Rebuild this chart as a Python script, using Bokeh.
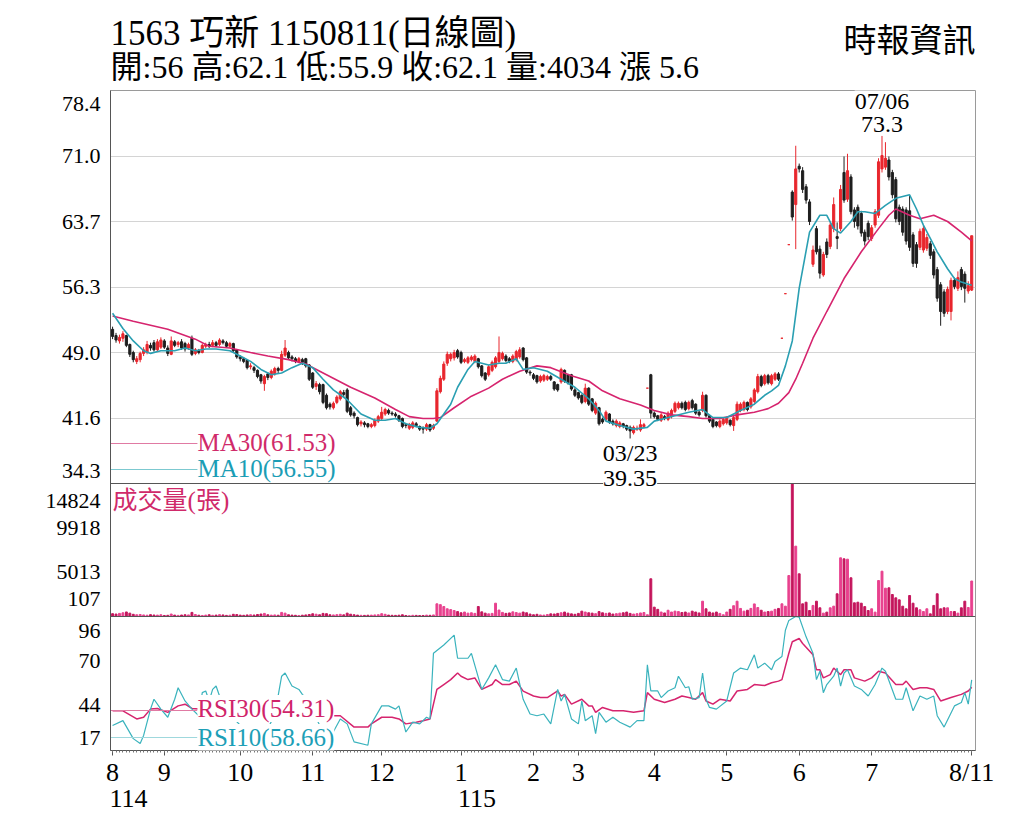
from bokeh.plotting import figure
from bokeh.layouts import column
from bokeh.models import Range1d, FixedTicker, Span, Label, ColumnDataSource, LinearAxis
from bokeh.embed import file_html
from bokeh.resources import INLINE

# ---------------- data ----------------
month_idx = [0, 15, 37, 58, 78, 101, 122, 135, 157, 178, 199, 220, 249]
month_lbl = ["8", "9", "10", "11", "12", "1", "2", "3", "4", "5", "6", "7", "8/11"]
year_idx = [0, 101]
year_lbl = ["114", "115"]

price_ticks = [34.3, 41.6, 49.0, 56.3, 63.7, 71.0, 78.4]
vol_ticks = [107, 5013, 9918, 14824]
rsi_ticks = [17, 44, 70, 96]

O = [51.6, 50.9, 50.3, 50.6, 50.9, 49.9, 49.0, 48.0, 48.2, 48.9, 49.0, 49.8, 50.1, 49.3, 49.6,
     50.3, 49.5, 48.8, 50.2, 49.9, 50.2, 50.0, 49.5, 50.6, 48.9, 49.2, 49.0, 49.7, 49.9, 49.8,
     50.1, 49.9, 50.3, 50.1, 49.7, 50.0, 49.3, 48.5, 48.3, 48.1, 47.4, 47.3, 47.0, 46.5, 45.5,
     46.6, 46.2, 46.6, 47.2, 47.0, 48.7, 49.0, 48.5, 48.3, 48.0, 48.2, 48.3, 47.6, 46.7, 45.2,
     45.4, 45.4, 44.2, 43.2, 42.8, 43.4, 43.8, 44.5, 44.8, 42.8, 42.2, 41.7, 41.0, 41.1, 41.0,
     40.7, 40.8, 41.3, 41.6, 42.1, 42.5, 42.2, 42.1, 41.9, 41.6, 40.9, 40.5, 40.6, 41.0, 40.7,
     40.5, 40.4, 40.9, 40.5, 41.3, 44.6, 46.0, 47.8, 48.3, 48.4, 49.2, 49.0, 48.0, 47.9, 48.2,
     48.0, 48.3, 47.5, 46.7, 46.5, 47.0, 47.4, 48.0, 48.3, 48.6, 48.3, 48.0, 48.2, 48.5, 49.5,
     48.4, 46.8, 46.5, 46.4, 45.8, 45.9, 46.0, 46.3, 45.7, 45.4, 45.7, 47.0, 46.5, 46.5, 44.8,
     44.5, 44.2, 43.5, 45.0, 43.8, 42.2, 42.8, 41.5, 41.5, 42.1, 41.3, 40.8, 40.7, 41.0, 40.8,
     40.6, 40.0, 40.4, 40.3, 40.7, 45.0, 46.5, 42.2, 41.9, 41.4, 41.8, 41.5, 41.8, 42.4, 42.8,
     43.3, 43.4, 42.7, 43.6, 43.2, 42.3, 42.5, 44.2, 41.9, 41.5, 41.2, 40.7, 41.0, 41.1, 41.4,
     40.8, 41.5, 42.5, 42.6, 43.4, 42.9, 43.5, 44.6, 46.3, 45.5, 46.4, 45.5, 46.0, 46.6, 50.6,
     55.6, 61.1, 67.0, 65.6, 69.9, 69.4, 67.6, 65.9, 58.9, 62.9, 60.6, 57.7, 61.4, 60.9, 62.9,
     62.0, 62.9, 69.2, 66.2, 68.7, 65.0, 65.3, 64.6, 62.5, 63.5, 61.8, 63.3, 64.4, 69.6, 69.8,
     70.6, 69.2, 68.4, 65.3, 65.1, 65.0, 64.9, 62.2, 61.1, 60.8, 60.5, 60.7, 61.2, 60.3, 58.3,
     56.6, 55.8, 53.6, 53.6, 57.1, 56.2, 58.3, 57.8, 55.9, 56.0]
H = [51.9, 51.2, 51.0, 51.4, 51.0, 50.0, 49.2, 48.6, 49.1, 49.6, 50.3, 50.1, 50.4, 50.5, 50.7,
     50.5, 49.8, 50.8, 50.4, 50.3, 50.5, 50.2, 50.1, 50.9, 49.5, 49.4, 50.0, 50.1, 50.2, 50.4,
     50.3, 50.6, 50.5, 50.3, 50.2, 50.1, 49.4, 48.7, 48.5, 48.2, 47.8, 47.5, 47.1, 46.6, 46.5,
     46.8, 47.1, 47.4, 47.4, 49.2, 50.4, 49.2, 48.7, 48.5, 48.5, 48.4, 48.4, 47.7, 46.8, 45.8,
     45.6, 45.5, 44.4, 43.4, 43.5, 44.2, 44.8, 44.8, 45.0, 43.0, 42.4, 41.8, 41.4, 41.3, 41.1,
     41.1, 41.6, 42.0, 42.9, 42.8, 42.7, 42.4, 42.3, 42.0, 41.7, 41.1, 41.1, 41.3, 41.2, 40.8,
     40.7, 41.1, 41.0, 41.0, 45.0, 46.4, 48.0, 49.1, 49.0, 49.3, 49.4, 49.2, 48.4, 48.6, 48.7,
     48.8, 48.4, 47.6, 46.8, 47.6, 48.1, 48.6, 50.8, 49.1, 48.8, 48.5, 48.8, 49.3, 49.6, 49.6,
     48.5, 47.0, 46.7, 46.5, 46.5, 46.6, 46.5, 46.5, 45.8, 45.5, 47.3, 47.1, 46.6, 46.6, 45.0,
     44.6, 44.3, 45.5, 45.1, 43.9, 43.5, 42.9, 41.7, 42.5, 42.2, 41.5, 41.5, 41.3, 41.1, 40.9,
     40.8, 40.8, 40.8, 41.5, 41.1, 45.0, 46.6, 42.4, 42.0, 42.2, 42.0, 42.4, 42.7, 43.5, 43.5,
     43.5, 43.6, 43.6, 43.8, 43.3, 42.5, 44.6, 44.3, 42.0, 41.6, 41.3, 41.5, 41.7, 41.8, 41.5,
     41.9, 43.5, 43.4, 43.6, 43.5, 44.0, 45.0, 46.6, 46.5, 46.6, 46.6, 46.6, 46.8, 46.8, 50.6,
     55.6, 61.1, 67.2, 72.2, 70.2, 69.8, 67.9, 66.2, 61.0, 63.2, 61.0, 60.3, 61.8, 63.6, 66.4,
     63.6, 67.8, 71.0, 71.3, 69.0, 65.3, 65.6, 64.9, 62.8, 63.8, 63.3, 65.1, 70.8, 73.3, 72.6,
     71.0, 69.5, 68.7, 65.6, 65.4, 65.3, 66.6, 62.5, 61.4, 62.9, 63.2, 62.3, 61.5, 60.6, 58.6,
     56.9, 56.1, 56.4, 57.4, 57.4, 58.1, 58.6, 58.1, 57.0, 62.1]
L = [50.5, 50.1, 50.0, 50.2, 49.6, 48.5, 47.9, 47.7, 47.9, 48.6, 48.8, 49.2, 49.1, 49.1, 49.4,
     49.4, 48.6, 48.7, 49.6, 49.6, 49.3, 49.1, 49.3, 48.6, 48.7, 48.8, 48.9, 49.5, 49.5, 49.6,
     49.6, 49.7, 49.9, 49.5, 49.5, 49.0, 48.3, 48.0, 47.8, 47.1, 47.1, 46.7, 46.1, 45.5, 44.7,
     45.9, 46.0, 46.4, 46.7, 46.9, 48.5, 48.2, 48.0, 47.8, 47.8, 47.6, 47.3, 45.8, 44.9, 44.8,
     44.3, 43.2, 42.6, 42.6, 42.6, 43.2, 43.6, 44.0, 42.2, 41.8, 41.6, 40.7, 40.7, 40.6, 40.5,
     40.5, 40.6, 41.1, 41.4, 41.9, 42.0, 41.9, 41.7, 41.2, 40.5, 40.5, 40.3, 40.4, 40.6, 40.2,
     39.9, 40.2, 40.1, 40.3, 41.2, 44.4, 45.8, 47.5, 48.0, 48.1, 48.3, 47.7, 47.8, 47.7, 48.0,
     47.8, 47.2, 46.2, 45.8, 46.3, 46.8, 47.2, 47.8, 48.1, 47.9, 47.8, 47.8, 48.0, 48.3, 48.0,
     46.6, 46.4, 45.9, 45.5, 45.6, 45.7, 45.8, 45.8, 44.7, 44.6, 45.5, 45.6, 45.4, 44.7, 44.0,
     43.7, 43.2, 43.3, 43.0, 42.3, 42.0, 40.8, 41.0, 41.3, 41.0, 40.8, 40.6, 40.5, 40.5, 40.2,
     39.35, 39.8, 40.2, 40.1, 40.5, 45.0, 41.6, 41.6, 41.3, 41.2, 41.4, 41.3, 41.6, 42.2, 42.6,
     42.6, 42.4, 42.5, 42.6, 42.0, 41.8, 42.3, 41.7, 41.1, 40.5, 40.6, 40.5, 40.8, 40.9, 40.7,
     40.2, 41.3, 42.3, 42.4, 42.4, 42.7, 43.3, 44.4, 45.1, 45.3, 45.4, 45.3, 45.8, 45.8, 50.6,
     55.6, 61.1, 63.8, 60.6, 69.2, 66.9, 65.7, 63.3, 58.6, 60.0, 57.3, 57.5, 59.6, 60.6, 62.5,
     60.6, 62.6, 65.8, 65.9, 64.5, 63.0, 62.8, 62.0, 61.0, 61.6, 61.5, 63.0, 64.1, 69.2, 69.5,
     68.3, 66.3, 63.6, 63.3, 62.1, 61.1, 60.4, 58.6, 58.5, 60.5, 60.2, 60.4, 59.5, 57.3, 54.7,
     52.0, 53.0, 53.3, 52.6, 56.1, 55.9, 56.0, 54.6, 55.6, 55.9]
C = [50.8, 50.4, 50.7, 51.1, 49.8, 48.8, 48.2, 48.3, 48.9, 49.3, 49.9, 49.5, 49.3, 50.2, 50.4,
     49.6, 48.9, 50.3, 49.8, 50.1, 49.5, 49.4, 49.9, 48.8, 49.3, 49.0, 49.8, 49.9, 49.7, 50.1,
     49.8, 50.4, 50.1, 49.7, 50.0, 49.2, 48.5, 48.3, 48.0, 47.3, 47.5, 47.0, 46.3, 45.8, 46.3,
     46.2, 46.9, 47.2, 47.0, 48.8, 49.5, 48.4, 48.3, 48.0, 48.3, 47.9, 47.5, 46.0, 45.1, 45.5,
     44.6, 43.4, 42.8, 42.9, 43.3, 44.0, 44.6, 44.3, 42.4, 42.0, 41.9, 40.9, 41.2, 40.9, 40.7,
     40.9, 41.4, 41.8, 42.3, 42.6, 42.2, 42.1, 41.9, 41.4, 40.7, 40.8, 40.9, 41.1, 40.8, 40.4,
     40.4, 40.9, 40.3, 40.8, 44.7, 46.1, 47.7, 48.8, 48.8, 49.0, 48.5, 47.9, 48.2, 48.4, 48.5,
     48.6, 47.4, 46.4, 46.0, 47.4, 47.9, 48.4, 49.0, 48.9, 48.1, 48.0, 48.6, 49.1, 49.3, 48.2,
     46.8, 46.7, 46.1, 45.7, 46.3, 46.4, 46.3, 46.0, 44.9, 44.8, 47.1, 45.8, 45.6, 44.9, 44.2,
     43.9, 43.4, 45.0, 43.2, 42.5, 43.3, 41.0, 41.2, 42.3, 41.2, 41.0, 41.3, 41.1, 40.7, 40.4,
     40.2, 40.6, 40.5, 40.9, 40.9, 45.0, 42.2, 41.8, 41.5, 42.0, 41.6, 42.2, 42.5, 43.3, 43.3,
     42.8, 42.6, 43.4, 42.8, 42.2, 42.0, 44.2, 41.9, 41.3, 40.7, 40.8, 41.3, 41.5, 41.6, 40.9,
     41.7, 43.2, 43.2, 43.4, 42.6, 43.8, 44.8, 46.3, 45.3, 46.4, 45.6, 46.4, 46.6, 46.0, 50.6,
     55.6, 61.1, 64.2, 69.6, 69.6, 67.3, 66.1, 63.7, 60.5, 60.3, 57.9, 60.0, 60.0, 63.3, 65.6,
     61.8, 67.3, 66.1, 69.4, 64.8, 63.7, 63.2, 62.4, 61.5, 62.0, 63.0, 64.8, 70.4, 71.1, 70.8,
     68.7, 66.7, 64.0, 63.7, 62.5, 61.5, 60.8, 59.0, 59.0, 62.6, 62.9, 61.9, 59.9, 57.7, 55.1,
     53.6, 53.4, 56.1, 57.1, 56.4, 57.4, 56.4, 56.2, 56.5, 62.1]

vol = [420, 380, 450, 520, 610, 480, 350, 300, 330, 280, 250, 310, 270, 260, 300,
       220, 240, 380, 260, 230, 270, 300, 280, 560, 330, 250, 220, 260, 300, 240,
       260, 310, 280, 230, 250, 350, 320, 260, 240, 280, 300, 270, 330, 380, 450,
       300, 260, 280, 250, 560, 480, 300, 260, 240, 220, 250, 280, 330, 410, 360,
       300, 450, 420, 300, 280, 310, 350, 290, 480, 360, 300, 260, 240, 230, 250,
       260, 280, 300, 420, 350, 260, 240, 230, 250, 300, 220, 200, 240, 230, 210,
       220, 260, 240, 280, 1510, 1420, 1210, 960, 870, 770, 650, 520, 600, 480, 520,
       450, 1210, 620, 480, 400, 450, 1580, 820, 560, 450, 500, 620, 540, 480, 600,
       520, 380, 300, 350, 280, 260, 320, 400, 380, 450, 520, 600, 480, 400, 350,
       450, 700, 600, 520, 480, 420, 650, 520, 450, 500, 380, 420, 480, 520, 600,
       450, 380, 420, 500, 550, 300, 4280, 1140, 900, 600, 500, 800, 600, 700, 650,
       550, 600, 500, 700, 600, 500, 1800, 960, 600, 500, 600, 450, 300, 600, 900,
       1300, 1800, 1000, 700, 800, 1000, 1500, 1100, 800, 600, 650, 700, 900, 1000, 1510,
       1250, 4640, 14824, 7890, 4830, 1510, 1690, 770, 1330, 1800, 1070, 480, 590, 1070, 1250,
       2620, 6600, 6490, 6450, 4390, 1620, 1690, 1580, 1200, 770, 960, 590, 4090, 5120, 3240,
       3280, 2540, 2170, 1950, 1250, 960, 2430, 1580, 1070, 850, 660, 960, 400, 1330, 2620,
       960, 1070, 1070, 660, 660, 480, 1070, 1800, 1100, 4034]

ma30_i = [0, 6, 16, 24, 28, 34, 40, 45, 51, 56, 62, 69, 76, 82, 86, 90, 93, 95, 99, 104,
          109, 113, 118, 123, 127, 133, 138, 142, 147, 153, 157, 162, 167, 171, 176, 181, 186,
          190, 193, 196, 198, 200, 203, 207, 212, 217, 222, 225, 227, 231, 234, 238, 242, 246, 249]
ma30_v = [53.1, 52.5, 51.6, 50.5, 49.7, 49.5, 49.0, 48.6, 48.2, 47.7, 46.5, 45.1, 43.9, 42.6,
          41.8, 41.6, 41.6, 41.7, 42.8, 44.1, 45.0, 46.0, 46.9, 47.5, 47.3, 46.4, 45.8, 44.7,
          43.8, 43.1, 42.5, 42.0, 41.8, 41.6, 41.6, 42.0, 42.3, 42.7, 43.3, 44.5, 46.0, 47.8,
          50.6, 53.6, 57.3, 60.3, 62.9, 64.4, 65.1, 64.4, 64.0, 64.4, 63.7, 62.5, 61.53]

ma10_i = [0, 3, 6, 9, 11, 14, 18, 21, 24, 27, 30, 34, 37, 40, 43, 46, 49, 52, 55, 58, 61, 64,
          68, 72, 76, 79, 82, 85, 89, 92, 94, 96, 98, 100, 103, 105, 109, 112, 114, 117, 119,
          122, 126, 130, 134, 138, 141, 143, 147, 151, 155, 157, 161, 167, 171, 174, 178, 182,
          186, 189, 191, 193, 195, 197, 199, 202, 205, 207, 209, 211, 214, 216, 218, 221, 224,
          227, 229, 231, 233, 235, 237, 239, 242, 244, 246, 249]
ma10_v = [53.4, 51.7, 50.3, 49.2, 48.9, 49.2, 49.2, 49.5, 49.2, 49.4, 49.4, 49.2, 48.6, 48.0,
          47.1, 46.5, 46.7, 47.3, 47.8, 47.3, 46.0, 44.8, 43.7, 42.1, 41.4, 41.4, 41.6, 41.0,
          40.6, 40.5, 41.0, 42.1, 43.2, 45.1, 47.1, 48.0, 47.6, 47.8, 47.8, 48.3, 47.1, 47.3,
          46.9, 46.0, 45.1, 43.8, 42.5, 41.3, 40.8, 40.4, 40.6, 41.3, 41.7, 42.3, 42.6, 41.7,
          41.7, 42.5, 43.2, 44.2, 44.7, 45.3, 47.5, 50.3, 56.2, 62.5, 64.4, 64.4, 62.9, 62.4,
          63.7, 64.8, 64.8, 64.6, 65.5, 66.3, 66.5, 66.7, 65.1, 63.3, 61.8, 60.3, 58.4, 57.3,
          56.9, 56.55]

rsi30_i = [0, 3, 7, 9, 11, 13, 16, 19, 21, 23, 25, 28, 32, 36, 40, 44, 48, 50, 54, 58, 62, 66,
           70, 74, 75, 78, 81, 83, 85, 88, 90, 92, 94, 96, 98, 100, 101, 103, 105, 107, 110, 111,
           113, 115, 117, 119, 122, 124, 126, 129, 130, 131, 133, 136, 138, 139, 140, 142, 145,
           148, 151, 154, 155, 157, 160, 163, 165, 167, 169, 171, 172, 174, 176, 179, 181, 184,
           186, 189, 191, 193, 194, 196, 197, 199, 200, 203, 204, 205, 206, 208, 209, 211, 212,
           214, 215, 218, 220, 222, 224, 227, 229, 230, 232, 234, 236, 238, 240, 243, 246, 248, 249]
rsi30_v = [40.4, 40.4, 35.6, 36.6, 41.4, 41.8, 39.5, 43.3, 44.3, 41.8, 41.4, 43.0, 44.0, 42.0,
           40.0, 38.5, 40.0, 43.0, 42.0, 40.0, 37.5, 37.5, 30.8, 30.8, 32.7, 36.6, 36.6, 35.6,
           32.7, 33.7, 34.6, 35.6, 53.0, 55.9, 58.8, 62.7, 60.8, 58.8, 59.8, 53.0, 55.9, 58.8,
           55.9, 55.9, 57.9, 52.0, 49.1, 48.2, 48.2, 52.1, 49.1, 50.1, 44.3, 47.2, 43.3, 43.3,
           39.5, 42.4, 40.4, 40.4, 39.5, 40.4, 51.1, 47.2, 45.3, 47.2, 49.1, 48.2, 47.2, 51.1,
           46.2, 44.3, 47.2, 46.2, 52.1, 53.0, 55.9, 55.3, 56.9, 57.9, 58.8, 74.3, 81.1, 83.0,
           80.1, 73.4, 64.6, 64.6, 59.8, 61.7, 65.6, 61.7, 64.6, 64.6, 59.8, 57.9, 59.8, 63.7,
           62.7, 55.9, 55.9, 57.9, 53.0, 54.0, 54.0, 53.0, 46.2, 48.2, 50.1, 52.1, 54.31]

rsi10_i = [0, 3, 6, 8, 9, 11, 12, 14, 16, 18, 19, 21, 23, 25, 26, 27, 28, 29, 30, 31, 33, 35,
           37, 39, 41, 43, 45, 47, 49, 50, 52, 54, 55, 56, 58, 60, 62, 64, 66, 68, 70, 74, 75,
           78, 80, 82, 83, 85, 87, 89, 91, 92, 93, 96, 99, 100, 103, 104, 107, 109, 111, 113,
           115, 117, 119, 121, 123, 125, 127, 129, 130, 131, 133, 135, 136, 137, 139, 140, 141,
           143, 145, 147, 150, 152, 154, 155, 156, 158, 159, 161, 163, 164, 166, 167, 168, 170,
           171, 172, 173, 175, 178, 180, 182, 184, 186, 187, 189, 191, 192, 194, 195, 196, 198,
           199, 201, 203, 204, 205, 206, 207, 209, 210, 211, 212, 213, 215, 217, 219, 221, 223,
           224, 227, 229, 230, 232, 234, 236, 238, 239, 241, 244, 246, 247, 248, 249]
rsi10_v = [31.7, 34.6, 24.0, 21.1, 25.9, 41.4, 47.2, 41.4, 36.6, 47.2, 54.0, 46.2, 41.4, 37.5,
           51.1, 52.1, 46.2, 53.0, 55.0, 49.1, 42.0, 36.0, 32.0, 30.0, 28.0, 25.0, 30.0, 38.0,
           60.8, 62.7, 55.0, 53.0, 50.1, 48.2, 40.0, 32.0, 26.0, 28.0, 35.6, 32.7, 22.1, 20.1,
           32.7, 43.3, 43.3, 41.4, 43.3, 27.9, 33.7, 32.7, 36.6, 35.6, 74.3, 79.2, 85.0, 71.4,
           71.4, 74.3, 53.0, 59.8, 67.5, 58.8, 57.9, 65.6, 47.2, 38.5, 37.5, 38.5, 32.7, 53.0,
           46.2, 50.1, 35.6, 32.7, 46.2, 34.6, 37.5, 26.9, 39.5, 33.7, 36.6, 33.7, 30.8, 34.6,
           34.6, 67.5, 52.1, 52.1, 48.2, 52.1, 54.0, 60.8, 54.0, 54.6, 47.2, 48.2, 62.7, 47.2,
           42.4, 41.4, 46.2, 62.7, 65.6, 64.6, 73.4, 65.6, 68.5, 64.6, 69.5, 72.4, 87.9, 93.7,
           96.0, 95.6, 84.0, 74.3, 58.8, 63.7, 51.1, 55.9, 60.8, 65.6, 55.0, 62.7, 64.6, 55.0,
           53.0, 49.1, 55.9, 65.6, 63.7, 47.2, 47.2, 54.0, 40.4, 49.1, 47.2, 49.1, 37.5, 30.8,
           43.3, 45.3, 51.1, 44.3, 58.66]

# ---------------- styling ----------------
RED = "#e8262d"
BLK = "#1e1e1e"
MAG = "#d6246e"
TEAL = "#2a9fb2"
VOL_UP = "#e8418e"
VOL_DN = "#c4155c"
SERIF = "'Liberation Serif', 'Noto Sans CJK TC'"
W = 1010
FRAME_L, FRAME_R = 110, 975          # page x of the plot frame

PRICE_H, VOL_H, RSI_H = 393, 133, 134      # panel heights in px
ppp = (price_ticks[-1] - price_ticks[0]) / PRICE_H
vpp = (vol_ticks[-1] - vol_ticks[0]) / VOL_H
rpp = (rsi_ticks[-1] - rsi_ticks[0]) / RSI_H
DAY_PX = (FRAME_R - FRAME_L) / 250.7


def py(px):
    # px below the top of the plot frame -> value on the main (price) scale
    return price_ticks[-1] - px * ppp


n = len(C)
days = list(range(n))
up = [c >= o for o, c in zip(O, C)]

# ---------------- header strip (its frame is aligned with the chart frame) ----------------
HEAD_H = 86
hd = figure(width=W, height=HEAD_H, x_range=Range1d(FRAME_L, FRAME_R), y_range=Range1d(0, HEAD_H),
            output_backend="svg", toolbar_location=None, min_border=0,
            min_border_left=FRAME_L, min_border_right=W - FRAME_R,
            x_axis_location=None, y_axis_location=None)
hd.outline_line_color = None
hd.xgrid.visible = False
hd.ygrid.visible = False


def hlab(x, y, text, size, align="left"):
    hd.add_layout(Label(x=x, y=y, text=text, text_font=SERIF, text_font_size=size,
                        text_color="black", text_align=align, text_baseline="middle"))


hlab(FRAME_L, HEAD_H - 33, "1563  巧新 1150811(日線圖)", "35px")
hlab(FRAME_L, HEAD_H - 66, f"開:{O[-1]:g} 高:{H[-1]:g} 低:{L[-1]:g} 收:{C[-1]:g} 量:{vol[-1]} 漲 {C[-1] - C[-2]:.1f}",
     "32px")
hlab(FRAME_R, HEAD_H - 40, "時報資訊", "33px", align="right")

# ---------------- chart ----------------
p = figure(width=W, height=726,
           x_range=Range1d(-0.6, 250.1),
           y_range=Range1d(py(PRICE_H + VOL_H + RSI_H), price_ticks[-1]),
           output_backend="svg", toolbar_location=None,
           min_border_left=FRAME_L, min_border_right=W - FRAME_R, min_border_top=4,
           min_border_bottom=62)
p.extra_y_ranges = {
    "vol": Range1d(vol_ticks[0] - RSI_H * vpp, vol_ticks[-1] + PRICE_H * vpp),
    "rsi": Range1d(rsi_ticks[0], rsi_ticks[-1] + (PRICE_H + VOL_H) * rpp),
}
p.outline_line_color = "#9a9a9a"

# grid only inside the price panel
p.xgrid.visible = False
p.ygrid[0].ticker = FixedTicker(ticks=price_ticks[1:-1])
p.ygrid.grid_line_color = "#d4d4d4"

# left axis: one label column for all three panels
ticks, over = [], {}


def add_tick(px, text):
    y = py(px)
    ticks.append(y)
    over[y] = text


for k, v in enumerate(price_ticks):
    px = (price_ticks[-1] - v) / ppp
    px += 13 if k == len(price_ticks) - 1 else (-13 if k == 0 else 0)
    add_tick(px, f"{v:.1f}")
for k, v in enumerate(vol_ticks):
    px = PRICE_H + (vol_ticks[-1] - v) / vpp
    px += 17 if k == len(vol_ticks) - 1 else (-18 if k == 0 else 0)
    add_tick(px, str(v))
for k, v in enumerate(rsi_ticks):
    px = PRICE_H + VOL_H + (rsi_ticks[-1] - v) / rpp
    px += 14 if k == len(rsi_ticks) - 1 else (-13 if k == 0 else 0)
    add_tick(px, str(v))

ya = p.yaxis[0]
ya.ticker = FixedTicker(ticks=ticks)
ya.major_label_overrides = over
ya.major_tick_line_color = None
ya.minor_tick_line_color = None
ya.axis_line_color = "#555555"
ya.major_label_standoff = 4
ya.major_label_text_font = SERIF
ya.major_label_text_font_size = "22px"
ya.major_label_text_color = "black"

xa = p.xaxis[0]
xa.ticker = FixedTicker(ticks=month_idx, minor_ticks=days)
xa.major_label_overrides = dict(zip(month_idx, month_lbl))
xa.axis_line_color = "#555555"
xa.major_tick_out = 5
xa.major_tick_in = 0
xa.minor_tick_out = 2
xa.minor_tick_in = 0
xa.major_tick_line_color = "#555555"
xa.minor_tick_line_color = "#777777"
xa.major_label_standoff = 2
xa.major_label_text_font = SERIF
xa.major_label_text_font_size = "26px"
xa.major_label_text_color = "black"

# second row of x labels: the (ROC) year, set a little right of its month tick
yr_pos = [i + 16 / DAY_PX for i in year_idx]
ya2 = LinearAxis(ticker=FixedTicker(ticks=yr_pos),
                 major_label_overrides=dict(zip(yr_pos, year_lbl)),
                 axis_line_color=None, major_tick_line_color=None, minor_tick_line_color=None,
                 major_label_standoff=-6, major_label_text_font=SERIF,
                 major_label_text_font_size="26px", major_label_text_color="black")
p.add_layout(ya2, "below")

# panel separators
p.add_layout(Span(location=price_ticks[0], dimension="width", line_color="#555555", line_width=1.2))
p.add_layout(Span(location=vol_ticks[0], dimension="width", y_range_name="vol",
                  line_color="#555555", line_width=1.2))

# candles
src = ColumnDataSource(dict(
    x=days, o=O, h=H, l=L, c=C,
    top=[max(o, c) for o, c in zip(O, C)],
    bot=[min(o, c) for o, c in zip(O, C)],
    col=[RED if u else BLK for u in up],
))
p.segment("x", "h", "x", "l", color="col", line_width=1, source=src)
p.vbar("x", 0.62, "top", "bot", fill_color="col", line_color="col", line_width=1, source=src)

# moving averages
p.line(ma30_i, ma30_v, color=MAG, line_width=1.6)
p.line(ma10_i, ma10_v, color=TEAL, line_width=1.6)

# volume
vsrc = ColumnDataSource(dict(x=days, v=vol, col=[VOL_UP if u else VOL_DN for u in up]))
p.vbar("x", 0.55, "v", vol_ticks[0], color="col", y_range_name="vol", source=vsrc)

# RSI
p.line(rsi30_i, rsi30_v, color=MAG, line_width=1.5, y_range_name="rsi")
p.line(rsi10_i, rsi10_v, color="#3ab3bd", line_width=1.2, y_range_name="rsi")

# legend strokes
leg_x1 = 24.6
p.segment([-0.6, -0.6], [py(353), py(379)], [leg_x1, leg_x1], [py(353), py(379)],
          color=["#e07aa3", "#7cc9d0"], line_width=1)
p.segment([-0.6, -0.6], [py(620), py(647)], [leg_x1, leg_x1], [py(620), py(647)],
          color=["#e07aa3", "#9fd8dd"], line_width=1)


def lab(x, y, text, size="25px", color="black", align="left", bg=None):
    p.add_layout(Label(x=x, y=y, text=text, text_font=SERIF, text_font_size=size,
                       text_color=color, text_align=align, text_baseline="middle",
                       background_fill_color=bg))


lab(leg_x1, py(352), f"MA30({ma30_v[-1]:.2f})", color="#d02a6a")
lab(leg_x1, py(378), f"MA10({ma10_v[-1]:.2f})", color="#1b9db5")
lab(0, py(410), "成交量(張)", color="#d02a6a")
lab(leg_x1, py(618), f"RSI30({rsi30_v[-1]:.2f})", color="#d0246a", bg="white")
lab(leg_x1, py(647), f"RSI10({rsi10_v[-1]:.2f})", color="#1d9fb7", bg="white")

# extreme annotations
hi = max(days, key=lambda i: H[i])
lo = min(days, key=lambda i: L[i])
lab(hi, py(10), "07/06", size="24px", align="center", bg="white")
lab(hi, py(34), f"{H[hi]:g}", size="24px", align="center")
lab(lo, py(362), "03/23", size="24px", align="center")
lab(lo, py(388), f"{L[lo]:g}", size="24px", align="center", bg="white")

open("out.html", "w").write(file_html(column(hd, p, spacing=0), INLINE))
